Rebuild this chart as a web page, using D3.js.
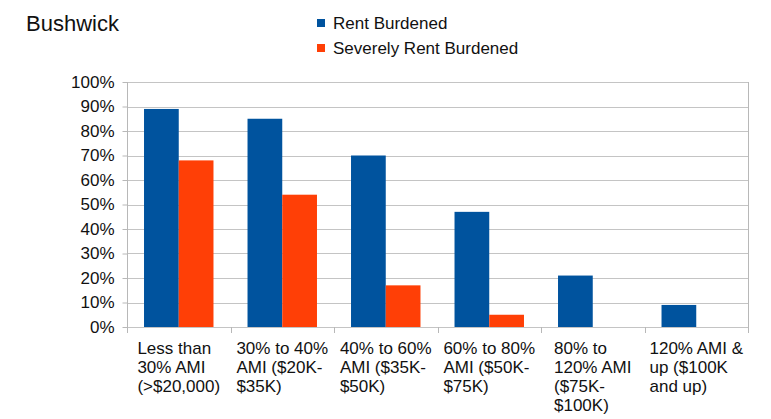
<!DOCTYPE html>
<html>
<head>
<meta charset="utf-8">
<script src="https://cdn.jsdelivr.net/npm/d3@7"></script>
<style>
  html, body { margin: 0; padding: 0; background: #fff; }
  svg { display: block; font-family: "Liberation Sans", Arial, Helvetica, sans-serif; }
</style>
</head>
<body>
<svg id="chart" width="771" height="419"></svg>
<script>
const title = "Bushwick";
const categories = [
  ["Less than", "30% AMI", "(>$20,000)"],
  ["30% to 40%", "AMI ($20K-", "$35K)"],
  ["40% to 60%", "AMI ($35K-", "$50K)"],
  ["60% to 80%", "AMI ($50K-", "$75K)"],
  ["80% to", "120% AMI", "($75K-", "$100K)"],
  ["120% AMI &", "up ($100K", "and up)"]
];
const seriesNames = ["Rent Burdened", "Severely Rent Burdened"];
const rentBurdened = [0.89, 0.85, 0.70, 0.47, 0.21, 0.09];
const severelyRentBurdened = [0.68, 0.54, 0.17, 0.05, 0, 0];
const yTicks = [0, 0.1, 0.2, 0.3, 0.4, 0.5, 0.6, 0.7, 0.8, 0.9, 1.0];
const colors = ["#00539e", "#ff3f06"];

(function () {
const svg = d3.select("#chart");
const pL = 127, pR = 748, pT = 82, pB = 327;

const x = d3.scaleBand().domain(d3.range(categories.length)).range([pL, pR]).paddingInner(0).paddingOuter(0);
const xs = d3.scaleBand().domain([0, 1]).range([0, x.bandwidth()]).paddingInner(0).paddingOuter(0.49);
const y = d3.scaleLinear().domain([0, 1]).range([pB, pT]);

// gridlines
svg.append("g").selectAll("line").data(yTicks).join("line")
  .attr("x1", pL).attr("x2", pR)
  .attr("y1", d => Math.round(y(d)) + 0.5).attr("y2", d => Math.round(y(d)) + 0.5)
  .attr("stroke", "#c4c4c4").attr("stroke-width", 1);

// y axis
const yAxis = d3.axisLeft(y).tickValues(yTicks).tickFormat(d3.format(".0%")).tickSize(5).tickPadding(8);
const gy = svg.append("g").attr("transform", `translate(${pL + 0.5},0)`).call(yAxis);
gy.select(".domain").attr("stroke", "#b8b8b8").attr("d", `M0,${pT}V${pB + 6}`);
gy.selectAll(".tick line").attr("stroke", "#b8b8b8");
gy.selectAll(".tick text").attr("font-size", "17px").attr("fill", "#111").attr("font-family", "Liberation Sans, Arial, sans-serif");

// right border
svg.append("line").attr("x1", pR + 0.5).attr("x2", pR + 0.5).attr("y1", pT).attr("y2", pB + 6)
  .attr("stroke", "#b8b8b8");

// x category tick marks at boundaries
const bounds = d3.range(categories.length + 1).map(i => i < categories.length ? x(i) : pR);
svg.append("g").selectAll("line").data(bounds).join("line")
  .attr("x1", d => Math.round(d) + 0.5).attr("x2", d => Math.round(d) + 0.5)
  .attr("y1", pB).attr("y2", pB + 6).attr("stroke", "#b8b8b8");

// bars
const data = categories.map((c, i) => ({ i, vals: [rentBurdened[i], severelyRentBurdened[i]] }));
const groups = svg.append("g").selectAll("g").data(data).join("g")
  .attr("transform", d => `translate(${x(d.i)},0)`);
groups.selectAll("rect").data(d => d.vals.map((v, k) => ({ v, k }))).join("rect")
  .attr("x", d => xs(d.k)).attr("width", xs.bandwidth())
  .attr("y", d => y(d.v)).attr("height", d => y(0) - y(d.v))
  .attr("fill", d => colors[d.k]);

// x labels: block centered in category, lines left-aligned
const lab = svg.append("g").attr("font-size", "17px").attr("fill", "#111");
categories.forEach((lines, i) => {
  const t = lab.append("text");
  lines.forEach((ln, j) => {
    t.append("tspan").attr("x", 0).attr("y", 354 + j * 19).text(ln);
  });
  const maxW = d3.max(t.selectAll("tspan").nodes(), n => n.getComputedTextLength());
  const cx = x(i) + x.bandwidth() / 2;
  t.attr("transform", `translate(${cx - maxW / 2},0)`);
});

// title
svg.append("text").attr("x", 26).attr("y", 31).attr("font-size", "22px").attr("fill", "#111").text(title);

// legend
const leg = svg.append("g");
seriesNames.forEach((name, k) => {
  leg.append("rect").attr("x", 317).attr("y", 19 + k * 25).attr("width", 8).attr("height", 8).attr("fill", colors[k]);
  leg.append("text").attr("x", 333).attr("y", 29 + k * 25).attr("font-size", "17px").attr("fill", "#111").text(name);
});
})();
</script>
</body>
</html>
